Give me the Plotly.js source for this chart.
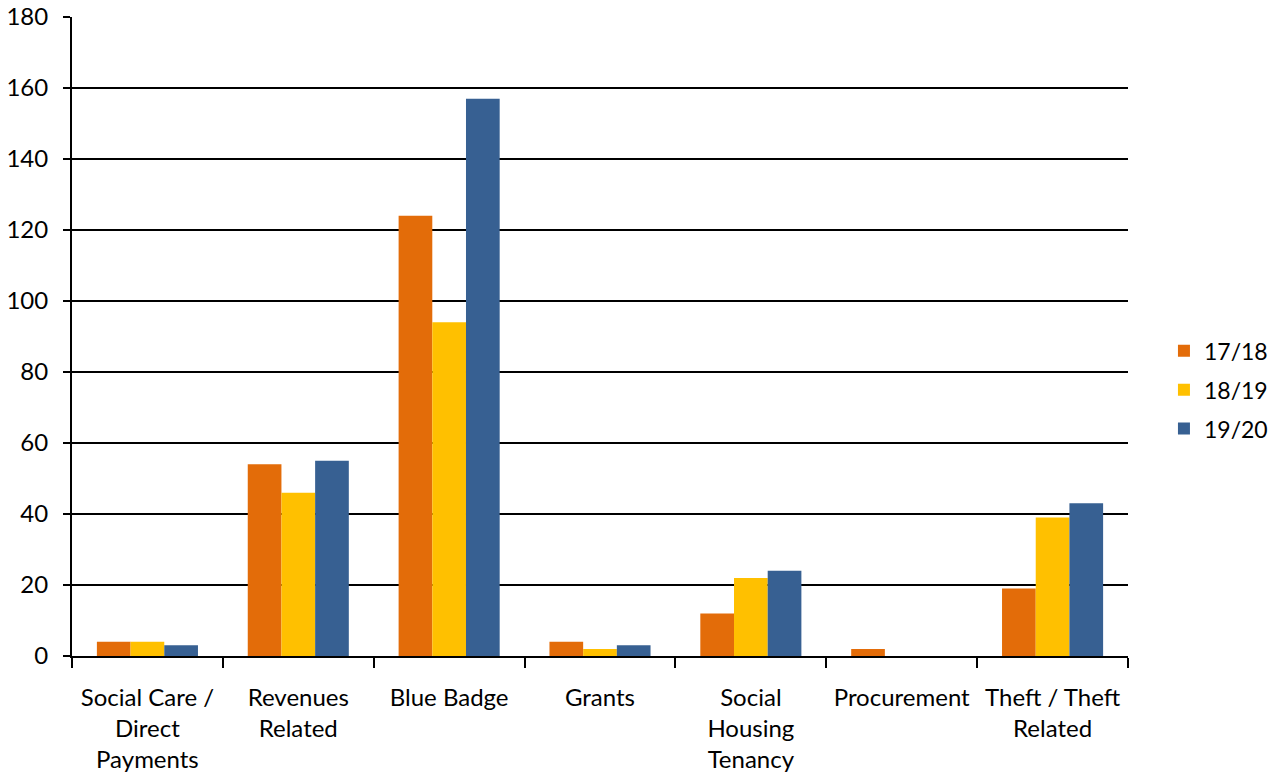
<!DOCTYPE html>
<html>
<head>
<meta charset="utf-8">
<script src="https://cdn.plot.ly/plotly-3.0.1.min.js"></script>
<style>html,body{margin:0;padding:0;background:#fff;}#chart{width:1270px;height:775px;}</style>
</head>
<body>
<div id="chart"></div>
<script>
const categories = ["Social Care /<br>Direct<br>Payments", "Revenues<br>Related", "Blue Badge", "Grants", "Social<br>Housing<br>Tenancy", "Procurement", "Theft / Theft<br>Related"];
const seriesNames = ["17/18", "18/19", "19/20"];
const values1718 = [4, 54, 124, 4, 12, 2, 19];
const values1819 = [4, 46, 94, 2, 22, 0, 39];
const values1920 = [3, 55, 157, 3, 24, 0, 43];
const yTicks = [0, 20, 40, 60, 80, 100, 120, 140, 160, 180];

const colors = ["#E36C09", "#FFC000", "#376092"];
const allValues = [values1718, values1819, values1920];

const traces = allValues.map((v, i) => ({
  type: "bar",
  name: seriesNames[i],
  legendgroup: "g" + i,
  x: categories,
  y: v,
  marker: {color: colors[i], line: {width: 0}}
}));

const layout = {
  width: 1270, height: 775,
  margin: {l: 72, r: 142, t: 17, b: 119},
  paper_bgcolor: "#fff", plot_bgcolor: "#fff",
  font: {family: "Lato, 'Open Sans', sans-serif", size: 24, color: "#000"},
  barmode: "group",
  bargap: 0.33, bargroupgap: 0,
  showlegend: true,
  legend: {xref: "container", yref: "container", x: 0.9165, y: 0.497, yanchor: "middle", xanchor: "left", font: {size: 23}, itemwidth: 30, traceorder: "grouped", tracegroupgap: 6, borderwidth: 0},
  xaxis: {
    type: "category",
    showline: true, linecolor: "#000", linewidth: 2,
    ticks: "outside", tickson: "boundaries", ticklen: 10, tickwidth: 2, tickcolor: "#000",
    showgrid: false, tickfont: {size: 24}, ticklabelstandoff: 19,
    automargin: false
  },
  yaxis: {
    range: [0, 180], tickvals: yTicks, ticktext: yTicks.map(String),
    showline: true, linecolor: "#000", linewidth: 2,
    showgrid: true, gridcolor: "#000", gridwidth: 1.5,
    ticks: "outside", ticklen: 7, tickwidth: 1.5, tickcolor: "#000",
    zeroline: false, tickfont: {size: 24}, ticklabelstandoff: 10,
    automargin: false
  }
};

Plotly.newPlot("chart", traces, layout, {displayModeBar: false, staticPlot: true});
</script>
</body>
</html>
